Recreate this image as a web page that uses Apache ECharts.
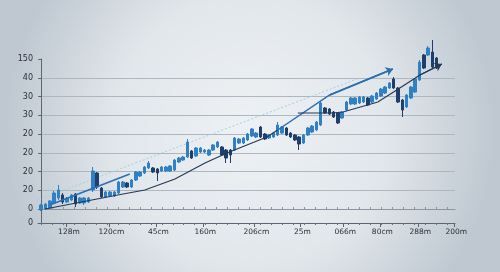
<!DOCTYPE html>
<html><head><meta charset="utf-8">
<script src="https://cdn.jsdelivr.net/npm/echarts@6/dist/echarts.min.js"></script>
<style>html,body{margin:0;padding:0;background:#dfe4e9;}#c{width:500px;height:272px;}</style>
</head><body><div id="c"></div>
<script>
// candle index positions are implicit (0..n-1)
const opens  = [13,14,15,20,25,28,21,23,29,20,20,21,33,50,35,26,27,27,30,36,40,36,43,47,50,55,55,54,52,52,52,53,61,63,66,72,67,71,71,68,73,76,76,73,73,73,80,80,83,87,86,96,89,85,86,88,90,95,90,88,86,80,88,91,93,98,115,114,111,110,105,113,119,119,120,121,125,121,124,127,130,135,144,135,123,116,125,131,143,168,168,171,165];
const closes = [18,19,22,30,33,21,25,28,19,25,25,25,52,36,26,31,31,31,41,41,36,43,51,51,56,60,51,50,56,56,57,63,65,66,81,65,75,75,73,73,78,81,68,65,68,85,84,85,89,94,90,86,84,88,90,98,96,88,86,83,79,88,95,97,101,120,110,109,106,100,111,121,125,125,126,126,118,127,130,134,136,140,135,121,113,128,136,144,161,155,175,156,155];
const lows   = [12,13,14,19,23,19,20,22,16,19,18,20,31,34,25,25,26,26,29,35,35,35,42,46,49,54,50,42,51,51,51,52,60,62,65,64,66,70,70,67,72,75,67,60,60,72,79,79,82,86,85,85,83,84,85,87,89,87,85,82,73,79,87,90,92,97,109,108,105,99,104,112,118,118,119,120,117,120,123,126,129,134,134,120,106,115,124,130,142,154,167,155,154];
const highs  = [19,20,23,32,38,30,26,29,30,26,26,26,56,51,36,32,32,32,42,42,41,44,52,52,57,62,56,55,57,57,58,64,66,67,84,73,76,76,74,74,79,82,77,74,74,86,85,86,90,95,91,97,90,89,91,101,97,96,91,89,87,89,96,98,102,122,116,115,112,111,112,122,126,126,127,127,126,128,131,135,137,141,146,136,124,129,137,145,163,169,177,183,166];

const yTickValues = [0, 14, 32.75, 51.5, 70.25, 89, 107.75, 126.5, 145.25, 164];
const yTickLabels = ['0','0','20','20','20','20','30','30','40','150'];
const xTickValues = [5.86, 15.74, 26.67, 37.6, 49.47, 60.16, 70.16, 78.77, 87.6, 95.98];
const xTickLabels = ['128m','120cm','45cm','160m','206cm','25m','066m','80cm','288m','200m'];

const trendBlueLeft  = [[2.0,18],[20.6,49]];
const trendDarkLower = [[0.9,14],[17.8,28],[24.1,33],[31.1,44],[38.1,60],[43.2,70],[52.5,86],[55.0,93]];
const trendBlueRight = [[55.0,93],[67.1,128],[81.8,154]];
const trendDarkRight = [[59.7,110],[67.8,110],[70.2,111],[78.3,121],[82.7,133],[88.1,148],[93.2,159]];
const trendFaint     = [[-0.75,23],[74.1,145]];

const minorTicks = [];
for (let v = 0; v <= 96; v += 2.55) minorTicks.push(v);

const candles = opens.map((o, i) => [i, o, closes[i], lows[i], highs[i]]);

function labelFor(vals, labs) {
  return function (v) {
    for (let i = 0; i < vals.length; i++) if (Math.abs(vals[i] - v) < 0.01) return labs[i];
    return '';
  };
}
function lastSeg(arr) { return [arr[arr.length - 2], arr[arr.length - 1]]; }

const chart = echarts.init(document.getElementById('c'), null, {renderer: 'canvas'});
const xMin = -0.75, xMax = 96.25;
const blue = '#2a6fb4', dark = '#233a58';
chart.setOption({
  animation: false,
  backgroundColor: {
    type: 'radial', x: 0.5, y: 0.48, r: 0.9,
    colorStops: [
      {offset: 0, color: '#eef1f4'},
      {offset: 0.55, color: '#e2e7eb'},
      {offset: 1, color: '#bfc8d1'}
    ]
  },
  grid: {left: 38, right: 45, top: 59, bottom: 49, containLabel: false},
  xAxis: [
    {
      type: 'value', min: xMin, max: xMax, position: 'bottom',
      axisLine: {show: true, lineStyle: {color: '#5d6670', width: 1}},
      axisTick: {show: true, customValues: xTickValues, length: 4, lineStyle: {color: '#5d6670'}},
      axisLabel: {show: true, customValues: xTickValues, formatter: labelFor(xTickValues, xTickLabels),
        fontSize: 7.5, color: '#2a2f35', margin: 5, padding: [0, 0, 0, 5], fontFamily: 'DejaVu Sans'},
      splitLine: {show: false}
    },
    {
      type: 'value', min: xMin, max: xMax, position: 'bottom',
      axisLine: {show: false},
      axisTick: {show: true, customValues: minorTicks, length: 2, lineStyle: {color: '#6a737d'}},
      axisLabel: {show: false}, splitLine: {show: false}
    },
    {
      type: 'value', min: xMin, max: xMax, position: 'bottom', offset: -14,
      axisLine: {show: true, lineStyle: {color: '#8d969f', width: 1}},
      axisTick: {show: true, customValues: minorTicks, length: 2, inside: true, lineStyle: {color: '#8d969f'}},
      axisLabel: {show: false}, splitLine: {show: false}
    }
  ],
  yAxis: {
    type: 'value', min: 0, max: 164,
    axisLine: {show: true, lineStyle: {color: '#5d6670', width: 1}},
    axisTick: {show: true, customValues: yTickValues, length: 3, lineStyle: {color: '#5d6670'}},
    axisLabel: {show: true, customValues: yTickValues, formatter: labelFor(yTickValues, yTickLabels),
      fontSize: 8, color: '#2a2f35', margin: 5, fontFamily: 'DejaVu Sans'},
    splitLine: {show: true, showMinLine: false, showMaxLine: false, lineStyle: {color: '#aeb6bf', width: 1}}
  },
  series: [
    {
      type: 'line', data: trendFaint, xAxisIndex: 0, symbol: 'none', z: 1,
      lineStyle: {color: '#9fd3df', width: 1, type: [2, 2]}
    },
    {
      type: 'candlestick', data: candles, xAxisIndex: 0, clip: false, barWidth: 3,
      encode: {x: 0, y: [1, 2, 3, 4]}, z: 3,
      itemStyle: {color: '#2f80c4', color0: '#1e3f6c', borderColor: '#2f80c4', borderColor0: '#1e3f6c', borderWidth: 1}
    },
    {
      type: 'lines', coordinateSystem: 'cartesian2d', xAxisIndex: 0, polyline: true, z: 4,
      lineStyle: {color: blue, width: 1.5, opacity: 1},
      data: [{coords: trendBlueLeft}, {coords: trendBlueRight}]
    },
    {
      type: 'lines', coordinateSystem: 'cartesian2d', xAxisIndex: 0, polyline: true, z: 4,
      lineStyle: {color: dark, width: 1.2, opacity: 1},
      data: [{coords: trendDarkLower}, {coords: trendDarkRight}]
    },
    {
      type: 'lines', coordinateSystem: 'cartesian2d', xAxisIndex: 0, polyline: false, z: 5,
      symbol: ['none', 'arrow'], symbolSize: 7,
      lineStyle: {color: blue, width: 1.5, opacity: 1},
      data: [{coords: lastSeg(trendBlueRight)}]
    },
    {
      type: 'lines', coordinateSystem: 'cartesian2d', xAxisIndex: 0, polyline: false, z: 5,
      symbol: ['none', 'arrow'], symbolSize: 7,
      lineStyle: {color: dark, width: 1.2, opacity: 1},
      data: [{coords: lastSeg(trendDarkRight)}]
    }
  ]
});
</script>
</body></html>
